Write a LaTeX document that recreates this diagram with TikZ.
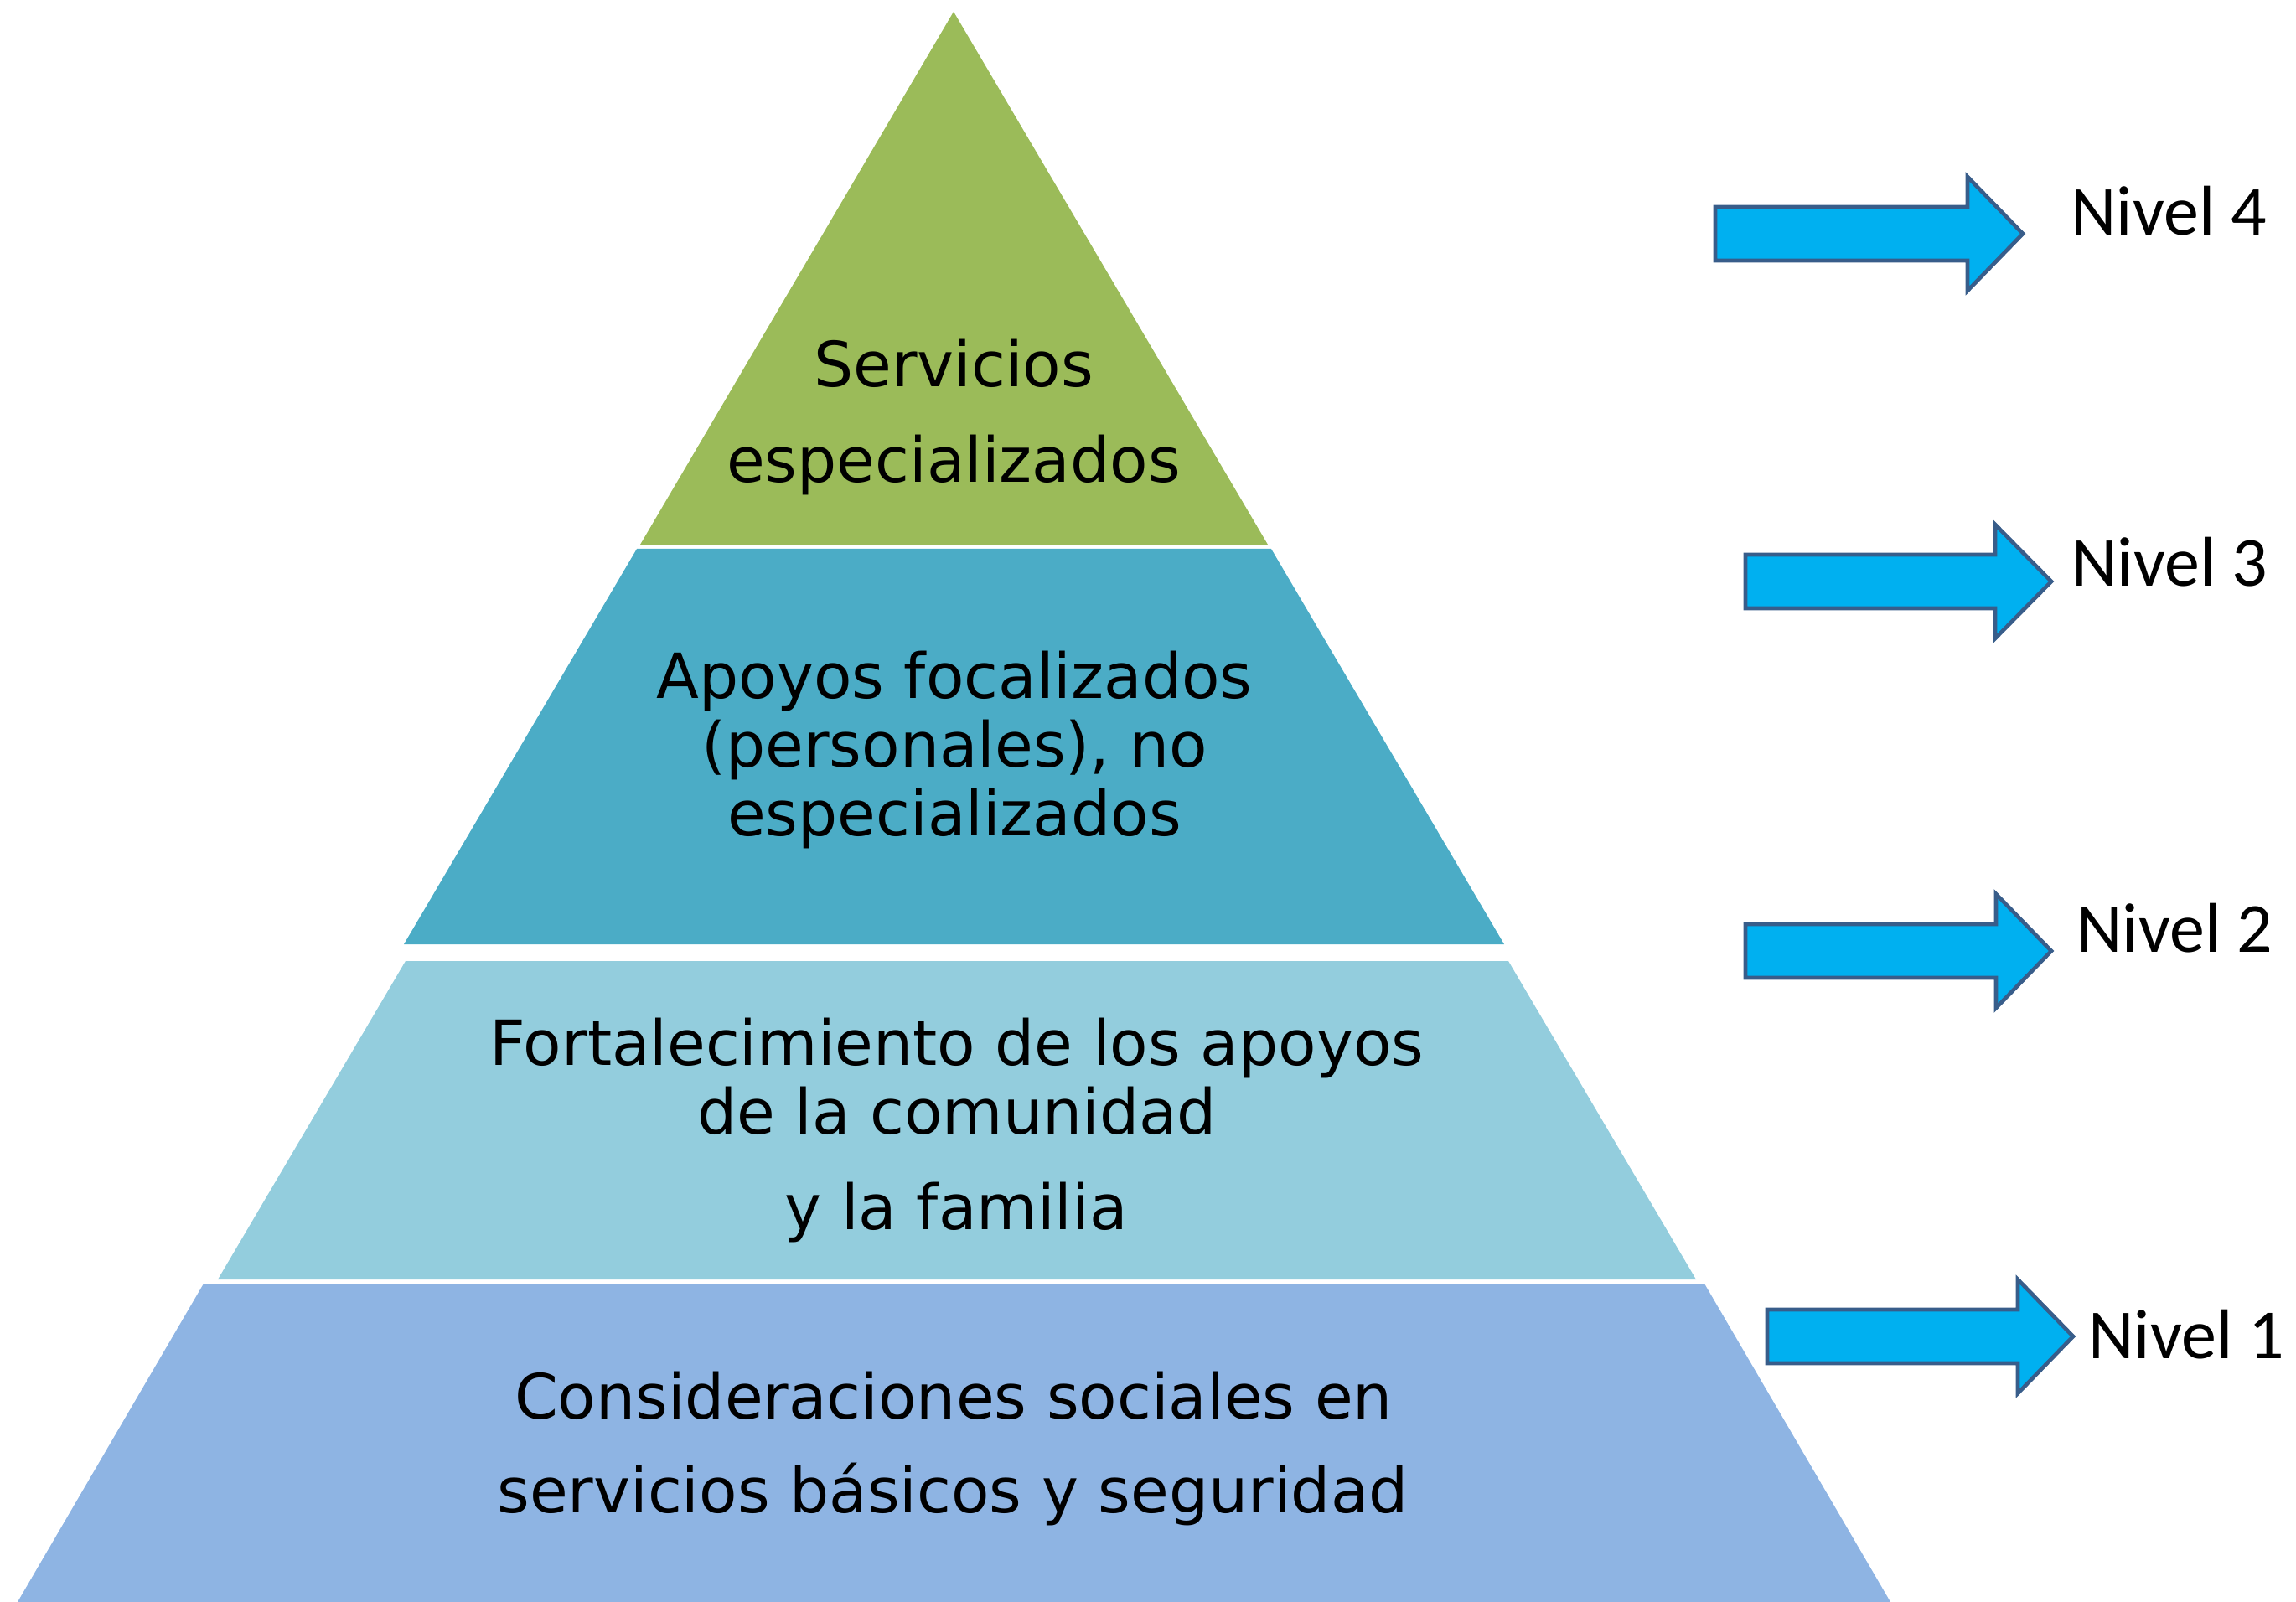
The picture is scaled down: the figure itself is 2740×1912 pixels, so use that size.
\documentclass[tikz,border=0pt]{standalone}
\usepackage{fontspec}
\setmainfont{DejaVu Sans}
\newfontfamily\calfont{Carlito}
\definecolor{lvfour}{HTML}{9BBB59}
\definecolor{lvthree}{HTML}{4BACC6}
\definecolor{lvtwo}{HTML}{93CDDD}
\definecolor{lvone}{HTML}{8EB4E3}
\definecolor{arrfill}{HTML}{00B0F0}
\definecolor{arrline}{HTML}{385D8A}
\tikzset{
  layertext/.style={anchor=base, inner sep=0pt, font=\fontsize{22.3}{26}\selectfont, text=black},
  niveltext/.style={anchor=base west, inner sep=0pt, font=\calfont\fontsize{25.2}{29}\selectfont, text=black},
  blockarr/.style={fill=arrfill, draw=arrline, line width=1.4pt, line join=miter}
}
\newcommand\myblockarrow[4]{%
  \draw[blockarr] (#1,#2-32) -- (#3,#2-32) -- (#3,#2-68) -- (#4,#2) -- (#3,#2+68) -- (#3,#2+32) -- (#1,#2+32) -- cycle;}
\begin{document}
\begin{tikzpicture}[x=0.3pt,y=-0.3pt]
\useasboundingbox (0,0) rectangle (2740,1912);
% pyramid layers
\fill[lvfour]  (1138,14) -- (1513,650) -- (764,650) -- cycle;
\fill[lvthree] (760,655) -- (1517,655) -- (1795,1127) -- (482,1127) -- cycle;
\fill[lvtwo]   (484,1147) -- (1800,1147) -- (2024,1527) -- (260,1527) -- cycle;
\fill[lvone]   (243,1532) -- (2034,1532) -- (2256,1912) -- (21,1912) -- cycle;
% layer texts
\node[layertext] (t4a) at (1138,462) {Servicios};
\node[layertext] (t4b) at (1138,576) {especializados};
\node[layertext] (t3a) at (1139,834) {Apoyos focalizados};
\node[layertext] (t3b) at (1139,916) {(personales), no};
\node[layertext] (t3c) at (1139,998) {especializados};
\node[layertext] (t2a) at (1142,1271) {Fortalecimiento de los apoyos};
\node[layertext] (t2b) at (1142,1353) {de la comunidad};
\node[layertext] (t2c) at (1141,1467) {y la familia};
\node[layertext] (t1a) at (1138,1693) {Consideraciones sociales en};
\node[layertext] (t1b) at (1137,1805) {servicios básicos y seguridad};
% arrows
\myblockarrow{2047}{279}{2348}{2414}
\myblockarrow{2083}{694}{2381}{2448}
\myblockarrow{2083}{1135}{2382}{2448}
\myblockarrow{2109}{1595}{2408}{2474}
% level labels
\node[niveltext] (n4) at (2471,281) {Nivel 4};
\node[niveltext] (n3) at (2472,700) {Nivel 3};
\node[niveltext] (n2) at (2478,1136) {Nivel 2};
\node[niveltext] (n1) at (2492,1621) {Nivel 1};
\end{tikzpicture}
\end{document}
